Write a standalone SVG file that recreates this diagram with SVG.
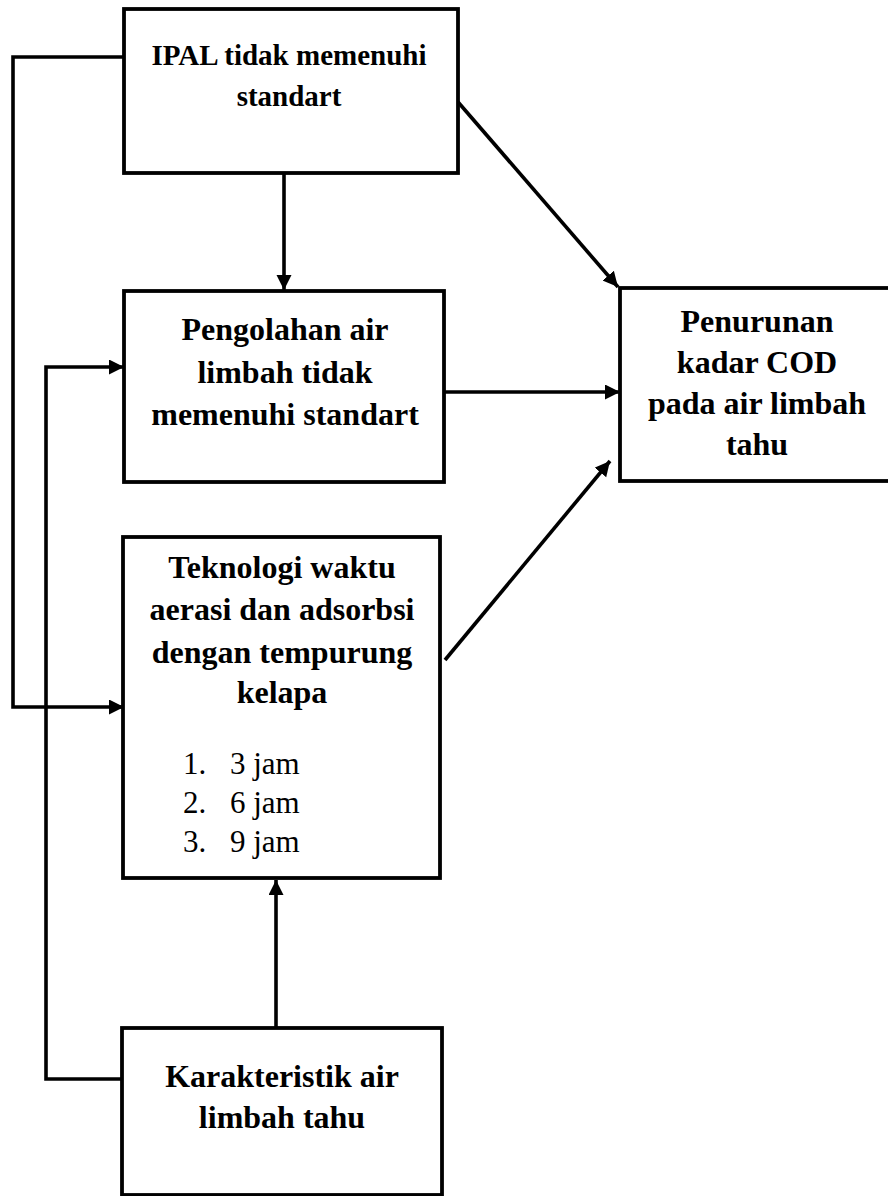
<svg xmlns="http://www.w3.org/2000/svg" width="888" height="1196" viewBox="0 0 888 1196">
<style>
.box{fill:#fff;stroke:#000;stroke-width:3.8}
.t{font-family:"Liberation Serif","Times New Roman",serif;font-weight:bold;font-size:32px;text-anchor:middle;fill:#000}
.t1{font-size:29px}
.r{font-family:"Liberation Serif","Times New Roman",serif;font-size:31px;fill:#000}
.c{fill:none;stroke:#000;stroke-width:3.6}
</style>
<defs>
<marker id="ah" markerUnits="userSpaceOnUse" markerWidth="16" markerHeight="16" refX="15" refY="7.5" orient="auto">
<path d="M0,0 L15,7.5 L0,15 z" fill="#000"/>
</marker>
</defs>
<rect width="888" height="1196" fill="#fff"/>
<g id="connectors">
<polyline class="c" points="124,57 13,57 13,707 124,707" marker-end="url(#ah)"/>
<polyline class="c" points="124,1079 46,1079 46,367 124,367" marker-end="url(#ah)"/>
<line class="c" x1="284" y1="173" x2="284" y2="290" marker-end="url(#ah)"/>
<line class="c" x1="458" y1="102" x2="618" y2="287" marker-end="url(#ah)"/>
<line class="c" x1="444" y1="392" x2="620" y2="392" marker-end="url(#ah)"/>
<line class="c" x1="445" y1="660" x2="610" y2="461" marker-end="url(#ah)"/>
<line class="c" x1="276" y1="1028" x2="276" y2="880" marker-end="url(#ah)"/>
</g>
<g id="ipal">
<rect class="box" x="124" y="9" width="334" height="164"/>
<text class="t t1" x="289" y="65">IPAL tidak memenuhi</text>
<text class="t t1" x="289" y="106">standart</text>
</g>
<g id="pengolahan">
<rect class="box" x="124" y="291" width="320" height="191"/>
<text class="t" x="285" y="340">Pengolahan air</text>
<text class="t" x="285" y="383">limbah tidak</text>
<text class="t" x="285" y="425">memenuhi standart</text>
</g>
<g id="teknologi">
<rect class="box" x="123" y="537" width="317" height="341"/>
<text class="t" x="282" y="578">Teknologi waktu</text>
<text class="t" x="282" y="620">aerasi dan adsorbsi</text>
<text class="t" x="282" y="663">dengan tempurung</text>
<text class="t" x="282" y="703">kelapa</text>
<text class="r" x="183" y="774">1.</text><text class="r" x="230" y="774">3 jam</text>
<text class="r" x="183" y="813">2.</text><text class="r" x="230" y="813">6 jam</text>
<text class="r" x="183" y="852">3.</text><text class="r" x="230" y="852">9 jam</text>
</g>
<g id="penurunan">
<rect class="box" x="620" y="288" width="290" height="193"/>
<text class="t" x="757" y="332">Penurunan</text>
<text class="t" x="757" y="373">kadar COD</text>
<text class="t" x="757" y="414">pada air limbah</text>
<text class="t" x="757" y="455">tahu</text>
</g>
<g id="karakteristik">
<rect class="box" x="122" y="1028" width="320" height="167"/>
<text class="t" x="282" y="1087">Karakteristik air</text>
<text class="t" x="282" y="1128">limbah tahu</text>
</g>
</svg>
